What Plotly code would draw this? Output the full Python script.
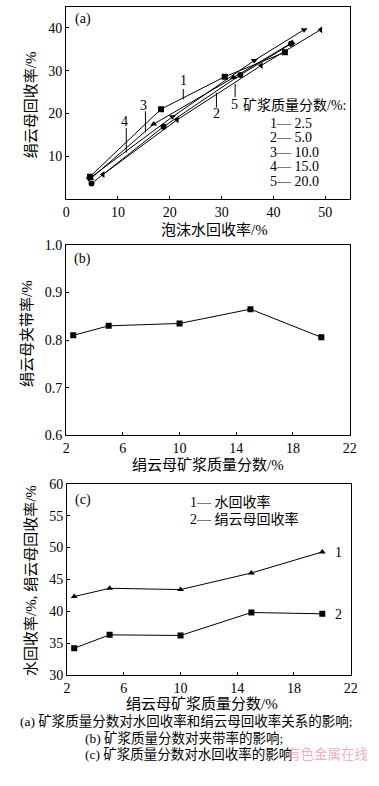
import plotly.graph_objects as go

# ---------------- data ----------------
# (a) sericite recovery vs froth water recovery, 5 pulp densities
a_labels = ["1", "2", "3", "4", "5"]
a_density = ["2.5", "5.0", "10.0", "15.0", "20.0"]
a1_x = [4.6, 18.3, 30.6, 42.2]
a1_y = [5.2, 21.0, 28.6, 34.3]
a2_x = [4.9, 18.8, 33.6, 43.4]
a2_y = [3.6, 16.9, 29.0, 36.3]
a3_x = [4.8, 16.9, 32.3, 43.6]
a3_y = [4.8, 17.5, 28.4, 36.6]
a4_x = [4.4, 20.5, 36.3, 45.9]
a4_y = [4.7, 19.2, 32.4, 39.6]
a5_x = [7.1, 21.4, 37.6, 49.1]
a5_y = [5.7, 18.5, 31.2, 39.6]
a_symbols = ["square", "circle", "triangle-up", "triangle-down", "triangle-left"]

# (b) entrainment vs pulp density
b_x = [2.5, 5, 10, 15, 20]
b_y = [0.810, 0.830, 0.835, 0.865, 0.806]

# (c) recoveries vs pulp density
c_x = [2.5, 5, 10, 15, 20]
c_water = [42.3, 43.6, 43.4, 46.0, 49.3]
c_mica = [34.2, 36.3, 36.2, 39.8, 39.6]

a_xticks = [0, 10, 20, 30, 40, 50]
a_yticks = [10, 20, 30, 40]
b_xticks = [2, 6, 10, 14, 18, 22]
b_yticks = [0.6, 0.7, 0.8, 0.9, 1.0]
c_yticks = [30, 35, 40, 45, 50, 55, 60]

FONT = "Liberation Serif, Noto Sans CJK SC, serif"
W, H = 379, 786

fig = go.Figure()

ax_x = [a1_x, a2_x, a3_x, a4_x, a5_x]
ax_y = [a1_y, a2_y, a3_y, a4_y, a5_y]
for i in range(5):
    fig.add_trace(go.Scatter(
        x=ax_x[i], y=ax_y[i], mode="lines+markers",
        line=dict(color="black", width=1),
        marker=dict(symbol=a_symbols[i], size=6, color="black"),
        xaxis="x", yaxis="y", showlegend=False))

fig.add_trace(go.Scatter(
    x=b_x, y=b_y, mode="lines+markers",
    line=dict(color="black", width=1),
    marker=dict(symbol="square", size=6, color="black"),
    xaxis="x2", yaxis="y2", showlegend=False))

fig.add_trace(go.Scatter(
    x=c_x, y=c_water, mode="lines+markers",
    line=dict(color="black", width=1),
    marker=dict(symbol="triangle-up", size=6, color="black"),
    xaxis="x3", yaxis="y3", showlegend=False))
fig.add_trace(go.Scatter(
    x=c_x, y=c_mica, mode="lines+markers",
    line=dict(color="black", width=1),
    marker=dict(symbol="square", size=6, color="black"),
    xaxis="x3", yaxis="y3", showlegend=False))


def px_x(p):
    return p / W


def px_y(p):
    return 1 - p / H


common = dict(showline=True, linecolor="black", linewidth=1, mirror=True,
              ticks="inside", ticklen=3, tickcolor="black", showgrid=False,
              zeroline=False, tickfont=dict(family=FONT, size=14, color="black"))

xdom = [px_x(64), px_x(356)]
fig.update_layout(
    width=W, height=H, margin=dict(l=0, r=0, t=0, b=0),
    paper_bgcolor="white", plot_bgcolor="white",
    font=dict(family=FONT, size=14, color="black"),
    xaxis=dict(domain=xdom, range=[0, 54.7], tickvals=a_xticks, anchor="y", **common),
    yaxis=dict(domain=[px_y(195.6), px_y(0.5)], range=[0, 44.8], tickvals=a_yticks, anchor="x", **common),
    xaxis2=dict(domain=xdom, range=[2, 22], tickvals=b_xticks, anchor="y2", **common),
    yaxis2=dict(domain=[px_y(436.7), px_y(242.5)], range=[0.6, 1.0], tickvals=b_yticks,
                tickformat=".1f", anchor="x2", **common),
    xaxis3=dict(domain=[px_x(65), px_x(357)], range=[2, 22], tickvals=b_xticks, anchor="y3", **common),
    yaxis3=dict(domain=[px_y(681), px_y(486)], range=[30, 60], tickvals=c_yticks, anchor="x3", **common),
)

ann = []


def text(x, y, s, xref, yref, size=14, xanchor="center", yanchor="middle", angle=0, color="black"):
    ann.append(dict(x=x, y=y, text=s, xref=xref, yref=yref, showarrow=False,
                    xanchor=xanchor, yanchor=yanchor, textangle=angle, borderpad=0,
                    font=dict(family=FONT, size=size, color=color)))


# panel letters
text(1.6, 42.2, "(a)", "x", "y", xanchor="left")
text(2.5, 0.97, "(b)", "x2", "y2", xanchor="left")
text(2.5, 57.5, "(c)", "x3", "y3", xanchor="left")

# (a) curve labels with leader lines
a_lab_pos = [(22.7, 27.6), (29.0, 19.9), (15.0, 21.9), (11.3, 18.1), (32.4, 22.2)]
a_leaders = [((22.6, 25.7), (22.6, 23.3)), ((29.0, 21.4), (29.0, 24.8)),
             ((15.3, 20.5), (15.3, 15.6)), ((11.6, 16.6), (11.6, 10.8)),
             ((32.6, 23.8), (32.6, 26.9))]
for lab, (lx, ly) in zip(a_labels, a_lab_pos):
    text(lx, ly, lab, "x", "y")
for (x0, y0), (x1, y1) in a_leaders:
    fig.add_shape(type="line", x0=x0, y0=y0, x1=x1, y1=y1, xref="x", yref="y",
                  line=dict(color="black", width=1))

# (a) legend block
text(33.9, 21.9, "矿浆质量分数/%:", "x", "y", xanchor="left")
a_leg_y = [17.7, 14.3, 10.9, 7.5, 4.1]
for lab, d, yy in zip(a_labels, a_density, a_leg_y):
    text(39.1, yy, f"{lab}— {d}", "x", "y", xanchor="left")

# (c) labels and legend
text(20.8, 49.2, "1", "x3", "y3", xanchor="left")
text(20.8, 39.5, "2", "x3", "y3", xanchor="left")
text(10.6, 57.1, "1— 水回收率", "x3", "y3", xanchor="left")
text(10.6, 54.5, "2— 绢云母回收率", "x3", "y3", xanchor="left")

# axis titles
text(px_x(28), px_y(100), "绢云母回收率/%", "paper", "paper", size=15, angle=-90)
text(px_x(217), px_y(227), "泡沫水回收率/%", "paper", "paper", size=15)
text(px_x(23), px_y(333), "绢云母夹带率/%", "paper", "paper", size=15, angle=-90)
text(px_x(210), px_y(466), "绢云母矿浆质量分数/%", "paper", "paper", size=15)
text(px_x(28), px_y(585), "水回收率/%, 绢云母回收率/%", "paper", "paper", size=15, angle=-90)
text(px_x(204), px_y(710), "绢云母矿浆质量分数/%", "paper", "paper", size=15)

# captions
text(px_x(15), px_y(728), "(a) 矿浆质量分数对水回收率和绢云母回收率关系的影响;", "paper", "paper",
     size=13.5, xanchor="left")
text(px_x(82), px_y(745), "(b) 矿浆质量分数对夹带率的影响;", "paper", "paper",
     size=13.5, xanchor="left")
text(px_x(82), px_y(762), "(c) 矿浆质量分数对水回收率的影响", "paper", "paper",
     size=13.5, xanchor="left")
text(px_x(376), px_y(762), "有色金属在线", "paper", "paper", size=13.5, xanchor="right",
     color="rgba(235,150,165,0.75)")

fig.update_layout(annotations=ann)
fig.write_html("out.html", config={"displayModeBar": False, "staticPlot": True},
               post_script="document.body.style.margin='0';document.body.style.overflow='hidden';")
